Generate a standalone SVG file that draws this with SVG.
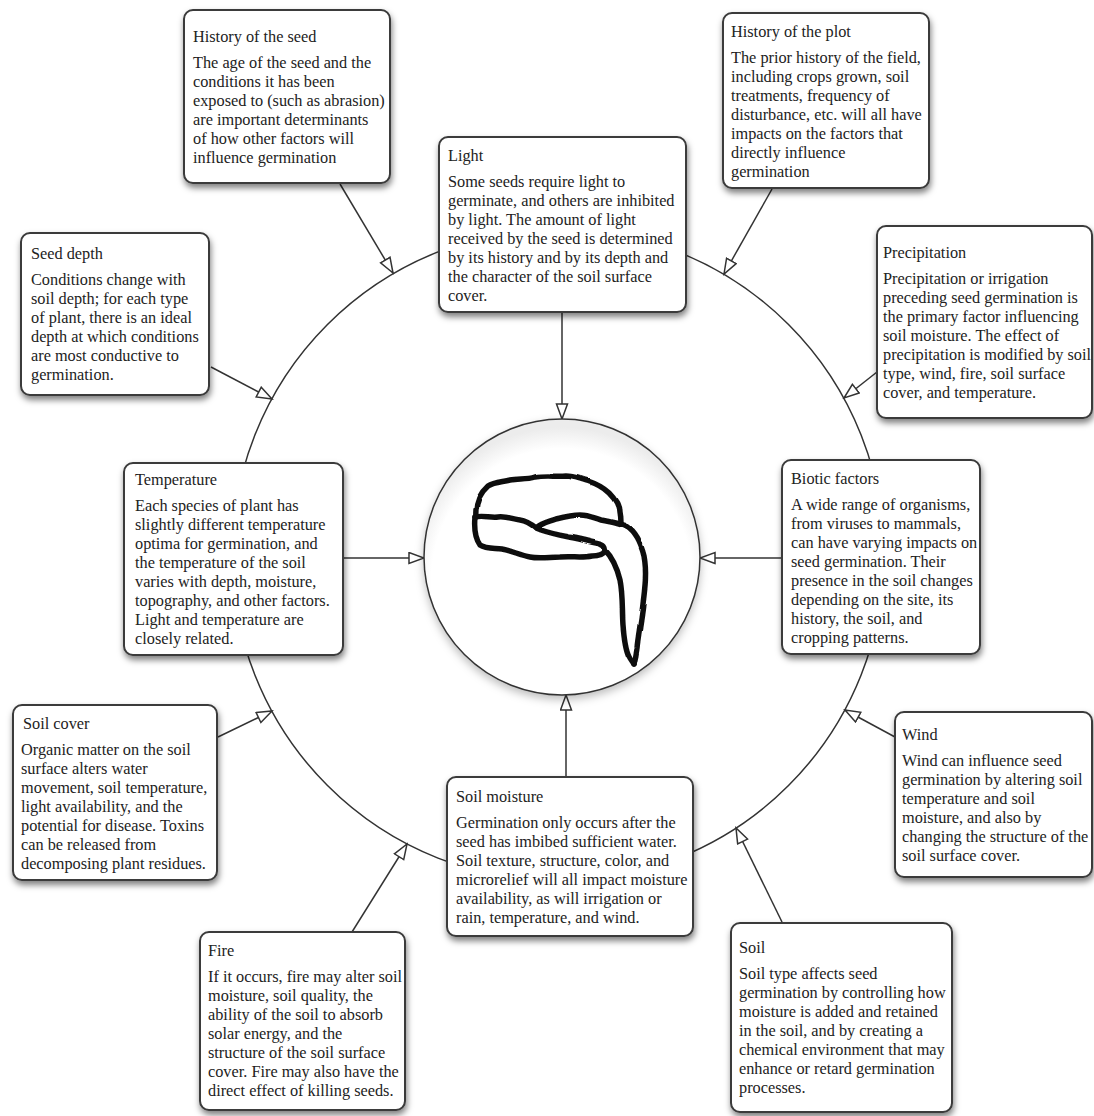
<svg xmlns="http://www.w3.org/2000/svg" width="1094" height="1116" viewBox="0 0 1094 1116">
  <defs>
    <filter id="shadow" x="-10%" y="-10%" width="125%" height="130%">
      <feDropShadow dx="1" dy="4" stdDeviation="3" flood-color="#000" flood-opacity="0.5"/>
    </filter>
    <filter id="softshadow" x="-10%" y="-10%" width="120%" height="125%">
      <feDropShadow dx="0" dy="4" stdDeviation="4" flood-color="#000" flood-opacity="0.25"/>
    </filter>
    <!-- gentle hand-drawn waviness for the seed outline -->
    <filter id="rough" x="-10%" y="-10%" width="120%" height="120%">
      <feTurbulence type="fractalNoise" baseFrequency="0.025" numOctaves="1" seed="5" result="noise"/>
      <feDisplacementMap in="SourceGraphic" in2="noise" scale="4" xChannelSelector="R" yChannelSelector="G"/>
    </filter>
    <radialGradient id="disc" cx="0.5" cy="0.58" r="0.55">
      <stop offset="0.86" stop-color="#fff"/>
      <stop offset="1" stop-color="#ececec"/>
    </radialGradient>
    <marker id="hollow" markerUnits="userSpaceOnUse" markerWidth="18" markerHeight="14" refX="16" refY="6.5" orient="auto">
      <path d="M1,1 L16,6.5 L1,12 Z" fill="#fff" stroke="#333" stroke-width="1.5" stroke-linejoin="miter"/>
    </marker>
  </defs>
  <style>
    .box { fill: #fff; stroke: #3a3a3a; stroke-width: 2; filter: url(#shadow); }
    .t { font-family: "Liberation Serif", "Times New Roman", serif; font-size: 16.3px; fill: #222; }
    .conn line { stroke: #333; stroke-width: 1.5; marker-end: url(#hollow); }
    .ring { fill: none; stroke: #333; stroke-width: 1.5; }
    .seed path { fill: none; stroke: #111; stroke-width: 5.5; stroke-linecap: round; stroke-linejoin: round; }
  </style>

  <rect width="1094" height="1116" fill="#fff"/>

  <!-- outer ring of factors -->
  <circle class="ring" cx="558" cy="555" r="326"/>

  <!-- connectors -->
  <g id="connectors" class="conn">
    <line x1="340" y1="184" x2="393" y2="273"/>
    <line x1="772" y1="189" x2="724" y2="274"/>
    <line x1="562" y1="312" x2="562" y2="419"/>
    <line x1="211" y1="367" x2="272" y2="399"/>
    <line x1="877" y1="372" x2="844" y2="398"/>
    <line x1="343" y1="558" x2="424" y2="558"/>
    <line x1="782" y1="558" x2="700" y2="558"/>
    <line x1="218" y1="737" x2="272" y2="711"/>
    <line x1="895" y1="737" x2="845" y2="710"/>
    <line x1="566" y1="777" x2="566" y2="695"/>
    <line x1="352" y1="932" x2="407" y2="844"/>
    <line x1="782" y1="922" x2="736" y2="828"/>
  </g>

  <!-- seed in the centre -->
  <g id="seed">
    <circle cx="562" cy="557" r="138" fill="url(#disc)" stroke="#333" stroke-width="1.5" filter="url(#softshadow)"/>
    <g class="seed" filter="url(#rough)">
      <path d="M476,517 C475,505 479,494 488,486 C494,482 502,482 510,480 C518,478 526,480 535,477 C546,475 556,477 566,476 C574,476 580,479 588,481 C597,484 603,487 609,493 C615,499 619,505 619,512 C620,517 620,520 620,523"/>
      <path d="M475,517 C483,515 490,518 498,517 C506,516 512,519 520,520 C527,521 531,524 536,528"/>
      <path d="M536,528 C542,523 548,522 556,519 C564,517 572,515 580,515 C589,515 594,518 601,520 C610,522 619,523 627,527"/>
      <path d="M627,527 C636,533 641,544 644,556 C647,572 645,588 643,604 C641,622 638,636 637,648 C636,656 635,660 634,664"/>
      <path d="M605,550 C612,557 617,568 620,580 C623,595 622,610 623,624 C624,638 625,648 629,656 C631,660 633,662 634,664"/>
      <path d="M475,517 C474,528 475,538 480,545 C486,549 494,548 502,549 C512,551 520,555 530,557 C540,559 550,557 560,557 C572,556 582,558 592,556 C598,556 603,555 605,551 C606,546 602,544 596,543 C586,541 578,538 568,537 C558,535 548,533 540,530 C538,529 537,529 536,528"/>
    </g>
  </g>

  <g id="history-seed">
    <rect class="box" x="184" y="10" width="206" height="173" rx="9"/>
    <text class="t" x="193" y="42">History of the seed</text>
    <text class="t" x="193" y="68">The age of the seed and the</text>
    <text class="t" x="193" y="87">conditions it has been</text>
    <text class="t" x="193" y="106">exposed to (such as abrasion)</text>
    <text class="t" x="193" y="125">are important determinants</text>
    <text class="t" x="193" y="144">of how other factors will</text>
    <text class="t" x="193" y="163">influence germination</text>
  </g>

  <g id="history-plot">
    <rect class="box" x="723" y="13" width="206" height="175" rx="9"/>
    <text class="t" x="731" y="37">History of the plot</text>
    <text class="t" x="731" y="63">The prior history of the field,</text>
    <text class="t" x="731" y="82">including crops grown, soil</text>
    <text class="t" x="731" y="101">treatments, frequency of</text>
    <text class="t" x="731" y="120">disturbance, etc. will all have</text>
    <text class="t" x="731" y="139">impacts on the factors that</text>
    <text class="t" x="731" y="158">directly influence</text>
    <text class="t" x="731" y="177">germination</text>
  </g>

  <g id="light">
    <rect class="box" x="439" y="137" width="247" height="175" rx="9"/>
    <text class="t" x="448" y="161">Light</text>
    <text class="t" x="448" y="187">Some seeds require light to</text>
    <text class="t" x="448" y="206">germinate, and others are inhibited</text>
    <text class="t" x="448" y="225">by light. The amount of light</text>
    <text class="t" x="448" y="244">received by the seed is determined</text>
    <text class="t" x="448" y="263">by its history and by its depth and</text>
    <text class="t" x="448" y="282">the character of the soil surface</text>
    <text class="t" x="448" y="301">cover.</text>
  </g>

  <g id="seed-depth">
    <rect class="box" x="21" y="233" width="188" height="162" rx="9"/>
    <text class="t" x="31" y="259">Seed depth</text>
    <text class="t" x="31" y="285">Conditions change with</text>
    <text class="t" x="31" y="304">soil depth; for each type</text>
    <text class="t" x="31" y="323">of plant, there is an ideal</text>
    <text class="t" x="31" y="342">depth at which conditions</text>
    <text class="t" x="31" y="361">are most conductive to</text>
    <text class="t" x="31" y="380">germination.</text>
  </g>

  <g id="precipitation">
    <rect class="box" x="877" y="226" width="215" height="192" rx="9"/>
    <text class="t" x="883" y="258">Precipitation</text>
    <text class="t" x="883" y="284">Precipitation or irrigation</text>
    <text class="t" x="883" y="303">preceding seed germination is</text>
    <text class="t" x="883" y="322">the primary factor influencing</text>
    <text class="t" x="883" y="341">soil moisture. The effect of</text>
    <text class="t" x="883" y="360">precipitation is modified by soil</text>
    <text class="t" x="883" y="379">type, wind, fire, soil surface</text>
    <text class="t" x="883" y="398">cover, and temperature.</text>
  </g>

  <g id="temperature">
    <rect class="box" x="124" y="463" width="219" height="192" rx="9"/>
    <text class="t" x="135" y="485">Temperature</text>
    <text class="t" x="135" y="511">Each species of plant has</text>
    <text class="t" x="135" y="530">slightly different temperature</text>
    <text class="t" x="135" y="549">optima for germination, and</text>
    <text class="t" x="135" y="568">the temperature of the soil</text>
    <text class="t" x="135" y="587">varies with depth, moisture,</text>
    <text class="t" x="135" y="606">topography, and other factors.</text>
    <text class="t" x="135" y="625">Light and temperature are</text>
    <text class="t" x="135" y="644">closely related.</text>
  </g>

  <g id="biotic-factors">
    <rect class="box" x="782" y="460" width="198" height="194" rx="9"/>
    <text class="t" x="791" y="484">Biotic factors</text>
    <text class="t" x="791" y="510">A wide range of organisms,</text>
    <text class="t" x="791" y="529">from viruses to mammals,</text>
    <text class="t" x="791" y="548">can have varying impacts on</text>
    <text class="t" x="791" y="567">seed germination. Their</text>
    <text class="t" x="791" y="586">presence in the soil changes</text>
    <text class="t" x="791" y="605">depending on the site, its</text>
    <text class="t" x="791" y="624">history, the soil, and</text>
    <text class="t" x="791" y="643">cropping patterns.</text>
  </g>

  <g id="soil-cover">
    <rect class="box" x="13" y="705" width="204" height="175" rx="9"/>
    <text class="t" x="23" y="729">Soil cover</text>
    <text class="t" x="21" y="755">Organic matter on the soil</text>
    <text class="t" x="21" y="774">surface alters water</text>
    <text class="t" x="21" y="793">movement, soil temperature,</text>
    <text class="t" x="21" y="812">light availability, and the</text>
    <text class="t" x="21" y="831">potential for disease. Toxins</text>
    <text class="t" x="21" y="850">can be released from</text>
    <text class="t" x="21" y="869">decomposing plant residues.</text>
  </g>

  <g id="wind">
    <rect class="box" x="895" y="712" width="197" height="165" rx="9"/>
    <text class="t" x="902" y="740">Wind</text>
    <text class="t" x="902" y="766">Wind can influence seed</text>
    <text class="t" x="902" y="785">germination by altering soil</text>
    <text class="t" x="902" y="804">temperature and soil</text>
    <text class="t" x="902" y="823">moisture, and also by</text>
    <text class="t" x="902" y="842">changing the structure of the</text>
    <text class="t" x="902" y="861">soil surface cover.</text>
  </g>

  <g id="soil-moisture">
    <rect class="box" x="447" y="777" width="246" height="159" rx="9"/>
    <text class="t" x="456" y="802">Soil moisture</text>
    <text class="t" x="456" y="828">Germination only occurs after the</text>
    <text class="t" x="456" y="847">seed has imbibed sufficient water.</text>
    <text class="t" x="456" y="866">Soil texture, structure, color, and</text>
    <text class="t" x="456" y="885">microrelief will all impact moisture</text>
    <text class="t" x="456" y="904">availability, as will irrigation or</text>
    <text class="t" x="456" y="923">rain, temperature, and wind.</text>
  </g>

  <g id="fire">
    <rect class="box" x="200" y="932" width="205" height="178" rx="9"/>
    <text class="t" x="208" y="956">Fire</text>
    <text class="t" x="208" y="982">If it occurs, fire may alter soil</text>
    <text class="t" x="208" y="1001">moisture, soil quality, the</text>
    <text class="t" x="208" y="1020">ability of the soil to absorb</text>
    <text class="t" x="208" y="1039">solar energy, and the</text>
    <text class="t" x="208" y="1058">structure of the soil surface</text>
    <text class="t" x="208" y="1077">cover. Fire may also have the</text>
    <text class="t" x="208" y="1096">direct effect of killing seeds.</text>
  </g>

  <g id="soil">
    <rect class="box" x="731" y="923" width="221" height="189" rx="9"/>
    <text class="t" x="739" y="953">Soil</text>
    <text class="t" x="739" y="979">Soil type affects seed</text>
    <text class="t" x="739" y="998">germination by controlling how</text>
    <text class="t" x="739" y="1017">moisture is added and retained</text>
    <text class="t" x="739" y="1036">in the soil, and by creating a</text>
    <text class="t" x="739" y="1055">chemical environment that may</text>
    <text class="t" x="739" y="1074">enhance or retard germination</text>
    <text class="t" x="739" y="1093">processes.</text>
  </g>
</svg>
